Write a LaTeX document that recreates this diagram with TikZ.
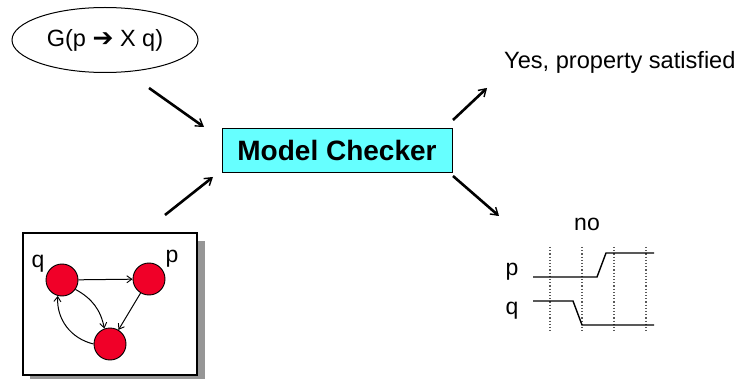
\documentclass[tikz,border=0pt]{standalone}
\usepackage{fontspec}
\setmainfont{Liberation Sans}
\newfontfamily\symfont{DejaVu Sans}
\usetikzlibrary{arrows.meta,shapes.geometric}
\definecolor{checkercyan}{RGB}{102,255,255}
\definecolor{statered}{RGB}{240,0,40}
\definecolor{shadowgray}{RGB}{150,150,150}
\tikzset{
  lbl/.style={font=\fontsize{23}{25}\selectfont, inner sep=0pt},
  flow/.style={line width=2.6pt, -{Straight Barb[length=7pt,width=9pt,line width=1.4pt]}},
  state/.style={circle, draw=black, line width=0.9pt, fill=statered, minimum size=32pt, inner sep=0pt},
  trans/.style={line width=1pt, -{Straight Barb[length=5pt,width=7pt,line width=0.9pt]}},
  signal/.style={line width=1.4pt},
  tick/.style={line width=1.2pt, gray!70!black, dotted},
}
\begin{document}
\begin{tikzpicture}[x=1pt,y=-1pt]
\useasboundingbox (0,0) rectangle (741,379);

% specification
\node[ellipse, draw, line width=1pt, minimum width=186pt, minimum height=65pt, inner sep=0pt,
      font=\fontsize{23.5}{26}\selectfont] (spec) at (105,40)
      {G(p {\symfont\bfseries\fontsize{25}{28}\selectfont\raisebox{-0.5pt}{➔}} X q)};

% model checker
\node[draw=black, line width=0.9pt, fill=checkercyan, minimum width=230pt, minimum height=44pt,
      inner sep=0pt, font=\fontsize{28}{30}\selectfont\bfseries] (checker) at (337,150) {Model Checker};

% result text
\node[lbl, font=\fontsize{23.6}{26}\selectfont, anchor=west] (yes) at (504,62) {Yes, property satisfied};

% flow arrows
\coordinate (a1s) at (149,88);  \coordinate (a1e) at (204,127);
\coordinate (a2s) at (165,215); \coordinate (a2e) at (213,177);
\coordinate (a3s) at (453,120); \coordinate (a3e) at (487,88);
\coordinate (a4s) at (453,176); \coordinate (a4e) at (499,216);
\draw[flow] (a1s) -- (a1e);
\draw[flow] (a2s) -- (a2e);
\draw[flow] (a3s) -- (a3e);
\draw[flow] (a4s) -- (a4e);

% model box with shadow
\fill[shadowgray] (30,241) rectangle (205,390);
\node[draw=black, line width=1.6pt, fill=white, minimum width=174pt, minimum height=142pt,
      inner sep=0pt, anchor=north west] (model) at (22,232) {};

\node[state] (sq) at (62,280) {};
\node[state] (sp) at (149,279) {};
\node[state] (sb) at (110,344) {};
\node[lbl] (lq) at (38,264) {q};
\node[lbl] (lp) at (172,259) {p};

\draw[trans] (sq) -- (sp);
\draw[trans] (sp) -- (sb);
\draw[trans] (sq.-35) to[bend left=25] (sb.110);
\draw[trans] (sb.west) to[bend left=40] (sq.-105);

% counterexample trace
\node[lbl] (no) at (587,224) {no};
\node[lbl] (tp) at (512,272) {p};
\node[lbl] (tq) at (512,311) {q};

\foreach \x [count=\i] in {550,582,614,646} {
  \coordinate (t\i a) at (\x,247);
  \coordinate (t\i b) at (\x,333);
  \draw[tick] (t\i a) -- (t\i b);
}

\coordinate (p0) at (533,277); \coordinate (p1) at (597,277);
\coordinate (p2) at (606,253); \coordinate (p3) at (654,253);
\draw[signal] (p0) -- (p1) -- (p2) -- (p3);

\coordinate (q0) at (533,301); \coordinate (q1) at (573,301);
\coordinate (q2) at (582,325); \coordinate (q3) at (654,325);
\draw[signal] (q0) -- (q1) -- (q2) -- (q3);
\end{tikzpicture}
\end{document}
